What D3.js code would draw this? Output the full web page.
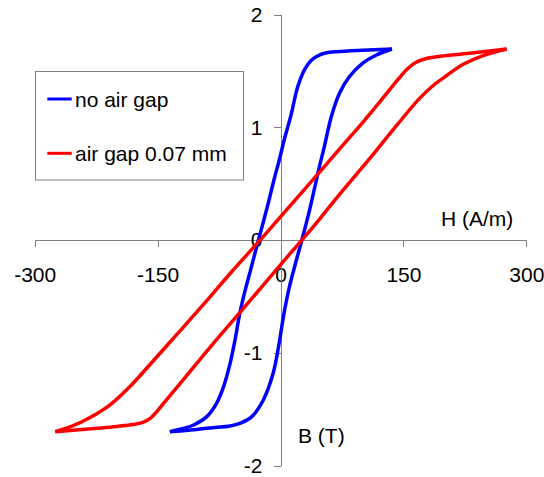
<!DOCTYPE html>
<html>
<head>
<meta charset="utf-8">
<script src="https://cdn.jsdelivr.net/npm/d3@7"></script>
<style>
  body { margin: 0; background: #fff; }
  svg text { font-family: "Liberation Sans", Arial, sans-serif; fill: #000; }
</style>
</head>
<body>
<svg id="chart" width="544" height="477"></svg>
<script>
// tick values
const xTicks = [-300, -150, 0, 150, 300];
const yTicks = [-2, -1, 0, 1, 2];

// no air gap: rising branch (from negative tip up) and falling branch (from positive tip down)
const blueUpH = [-135, -112, -90, -60, -48, -35, -21, -9, -1, 3.5, 11, 18.5, 26, 34.5, 42, 47.5, 53.5, 62, 72, 84, 100, 117, 136];
const blueUpB = [-1.698, -1.685, -1.668, -1.645, -1.62, -1.565, -1.417, -1.18, -0.885, -0.68, -0.41, -0.2, 0, 0.238, 0.475, 0.652, 0.829, 1.095, 1.303, 1.45, 1.569, 1.643, 1.696];
const blueDownH = [136, 100, 68.6, 55, 48, 40, 34, 28, 21, 12.5, 4.5, -1.5, -8, -14.5, -21, -27, -36, -44, -50, -55.5, -61.5, -69.5, -78, -90, -106, -120, -135];
const blueDownB = [1.696, 1.685, 1.672, 1.66, 1.643, 1.61, 1.565, 1.494, 1.36, 1.1, 0.889, 0.711, 0.534, 0.341, 0.16, 0, -0.25, -0.47, -0.66, -0.885, -1.092, -1.299, -1.447, -1.565, -1.639, -1.672, -1.698];

// air gap 0.07 mm
const redUpH = [-275, -250, -224, -200, -180, -168, -159, -151, -143, -127, -86, -51.5, -37, 11.6, 26, 48, 68.6, 109, 142, 170, 186, 199, 223, 248, 276];
const redUpB = [-1.698, -1.684, -1.668, -1.652, -1.635, -1.615, -1.58, -1.52, -1.45, -1.31, -0.95, -0.657, -0.534, -0.12, 0, 0.19, 0.375, 0.725, 1.02, 1.26, 1.37, 1.44, 1.56, 1.64, 1.696];
const redDownH = [276, 231, 191, 178, 166, 155, 144, 121, 101, 77, 52, 28, 3.4, -12.8, -25, -62, -94, -127, -159, -184, -208, -233, -253, -275];
const redDownB = [1.696, 1.658, 1.628, 1.612, 1.58, 1.52, 1.43, 1.225, 1.05, 0.85, 0.64, 0.44, 0.235, 0.1, 0, -0.3, -0.57, -0.84, -1.1, -1.3, -1.46, -1.575, -1.645, -1.698];

const seriesNames = ["no air gap", "air gap 0.07 mm"];
const seriesColors = ["#0000ff", "#ff0000"];

const svg = d3.select("#chart");

const x = d3.scaleLinear().domain([-300, 300]).range([34.7, 526.3]);
const y = d3.scaleLinear().domain([-2, 2]).range([465.7, 14.7]);

const axisColor = "#808080";
const fontSize = 21;

// x axis through B = 0
const gx = svg.append("g")
    .attr("transform", "translate(0," + y(0) + ")")
    .call(d3.axisBottom(x).tickValues(xTicks).tickSize(7).tickSizeOuter(0).tickPadding(20));

// y axis through H = 0
const gy = svg.append("g")
    .attr("transform", "translate(" + x(0) + ",0)")
    .call(d3.axisLeft(y).tickValues(yTicks).tickSize(7).tickSizeOuter(0).tickPadding(11));

[gx, gy].forEach(g => {
    g.selectAll("path, line").attr("stroke", axisColor).attr("shape-rendering", "crispEdges");
    g.selectAll("text").attr("font-size", fontSize).attr("font-family", "Liberation Sans, Arial, sans-serif")
        .attr("fill", "#000").text(d => d < 0 ? "-" + Math.abs(d) : d);
});

const line = d3.line()
    .x(d => x(d[0]))
    .y(d => y(d[1]))
    .curve(d3.curveCatmullRom.alpha(0.5));

const zip = (a, b) => a.map((v, i) => [v, b[i]]);

const branches = [
    { pts: zip(blueUpH, blueUpB), color: seriesColors[0] },
    { pts: zip(blueDownH, blueDownB), color: seriesColors[0] },
    { pts: zip(redUpH, redUpB), color: seriesColors[1] },
    { pts: zip(redDownH, redDownB), color: seriesColors[1] }
];

svg.append("g").selectAll("path")
    .data(branches)
    .join("path")
    .attr("d", d => line(d.pts))
    .attr("fill", "none")
    .attr("stroke", d => d.color)
    .attr("stroke-width", 3.5)
    .attr("stroke-linejoin", "miter");

// axis titles
svg.append("text").attr("x", 441).attr("y", 226).attr("font-size", fontSize).text("H (A/m)");
svg.append("text").attr("x", 298).attr("y", 443.3).attr("font-size", fontSize).text("B (T)");

// legend
const legend = svg.append("g");
legend.append("rect")
    .attr("x", 35.5).attr("y", 71.5).attr("width", 208).attr("height", 108.5)
    .attr("fill", "#fff").attr("stroke", axisColor);

const legendRows = [99, 153.3];
seriesNames.forEach((name, i) => {
    legend.append("line")
        .attr("x1", 47.3).attr("x2", 71.7)
        .attr("y1", legendRows[i]).attr("y2", legendRows[i])
        .attr("stroke", seriesColors[i]).attr("stroke-width", 3);
    legend.append("text")
        .attr("x", 75).attr("y", legendRows[i] + 7.5)
        .attr("font-size", fontSize)
        .text(name);
});
</script>
</body>
</html>
